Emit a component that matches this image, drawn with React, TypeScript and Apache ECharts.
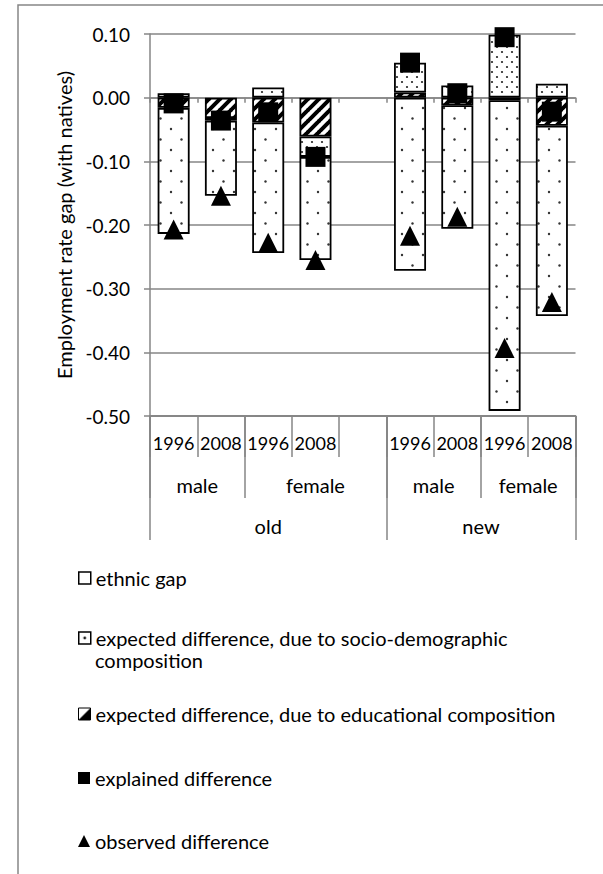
import React, { useEffect, useRef } from "react";
import * as echarts from "echarts";

// ---- data ----
const categories = [
  "old male 1996",
  "old male 2008",
  "old female 1996",
  "old female 2008",
  "",
  "new male 1996",
  "new male 2008",
  "new female 1996",
  "new female 2008",
];
const yearLabels = ["1996", "2008", "1996", "2008", "", "1996", "2008", "1996", "2008"];
// half-category grid (19 points) for the group rows
const genderLabels = ["", "", "male", "", "", "", "", "female", "", "", "", "", "male", "", "", "", "female", "", ""];
const genderDividers = [0, 4, 10, 14, 18];
const originLabels = ["", "", "", "", "", "old", "", "", "", "", "", "", "", "", "new", "", "", "", ""];
const originDividers = [0, 10, 18];

const educational = [-0.016, -0.032, -0.039, -0.061, null, 0.008, -0.012, -0.004, -0.044];
const socioDemographic = [0.007, -0.004, 0.016, -0.032, null, 0.047, 0.019, 0.099, 0.022];
const ethnicGap = [-0.198, -0.118, -0.205, -0.162, null, -0.272, -0.194, -0.488, -0.299];
const explained = [-0.009, -0.036, -0.023, -0.093, null, 0.055, 0.007, 0.095, -0.022];
const observed = [-0.207, -0.154, -0.228, -0.255, null, -0.217, -0.187, -0.393, -0.321];

const yMin = -0.5;
const yMax = 0.1;
const yStep = 0.1;

const S_ETH = "ethnic gap";
const S_SOC = "expected difference, due to socio-demographic composition";
const S_SOC_LINE1 = "expected difference, due to socio-demographic";
const S_SOC_LINE2 = "composition";
const S_EDU = "expected difference, due to educational composition";
const S_EXP = "explained difference";
const S_OBS = "observed difference";
const yTitle = "Employment rate gap (with natives)";

// ---- styling helpers ----
const FONT = "Lato, 'Open Sans', sans-serif";
const GRID_GREY = "#868686";

const svgUri = (body: string, w: number, h: number) =>
  "data:image/svg+xml;charset=utf-8," +
  encodeURIComponent(
    `<svg xmlns='http://www.w3.org/2000/svg' width='${w}' height='${h}'>${body}</svg>`
  );
const pattern = (body: string, w: number, h: number) => ({
  image: svgUri(body, w, h),
  repeat: "repeat",
  imageWidth: w,
  imageHeight: h,
});

const sparseDots = pattern(
  "<rect width='21' height='21' fill='white'/><circle cx='3' cy='3' r='1.2' fill='#333'/><circle cx='13.5' cy='13.5' r='1.2' fill='#333'/>",
  21,
  21
);
const denseDots = pattern(
  "<rect width='10' height='10' fill='white'/><circle cx='2' cy='2' r='1.1' fill='#222'/><circle cx='7' cy='7' r='1.1' fill='#222'/>",
  10,
  10
);
const hatch = pattern(
  "<rect width='11' height='11' fill='white'/><path d='M-1,12 L12,-1 M-1,1 L1,-1 M10,12 L12,10' stroke='black' stroke-width='4'/>",
  11,
  11
);
const iconDot = pattern(
  "<rect width='12' height='12' fill='white'/><circle cx='6' cy='6' r='1.4' fill='#222'/>",
  12,
  12
);
const iconHalf = pattern(
  "<rect width='12' height='12' fill='white'/><polygon points='12,0 12,12 0,12' fill='black'/>",
  12,
  12
);

const dash = (a: (number | null)[]) => a.map((v) => (v == null ? "-" : v));

export default function App() {
  const ref = useRef<HTMLDivElement>(null);

  useEffect(() => {
    if (!ref.current) return;
    const chart = echarts.init(ref.current, undefined, { renderer: "svg" });

    const textBase = { fontFamily: FONT, fontSize: 20, color: "#000" };
    const numBase = { fontFamily: FONT, fontSize: 18, color: "#000" };

    const bottomAxis = (
      data: string[],
      boundaryGap: boolean,
      tickLen: number,
      margin: number,
      show: (i: number) => boolean,
      style: any
    ) => ({
      type: "category",
      data,
      position: "bottom",
      boundaryGap,
      gridIndex: 0,
      axisLine: { show: true, onZero: false, lineStyle: { color: GRID_GREY, width: 1.5 } },
      axisTick: {
        show: true,
        length: tickLen,
        interval: (i: number) => show(i),
        lineStyle: { color: GRID_GREY, width: 1.5 },
      },
      axisLabel: { show: true, interval: 0, margin, ...style },
      splitLine: { show: false },
    });

    const legendRows = [
      { name: S_ETH, top: 568, icon: "rect", itemStyle: { color: "#fff", borderColor: "#000", borderWidth: 1.5, opacity: 1 } },
      { name: S_SOC, top: 628, icon: "rect", itemStyle: { color: iconDot, borderColor: "#000", borderWidth: 1.5, opacity: 1 } },
      { name: S_EDU, top: 704, icon: "rect", itemStyle: { color: iconHalf, borderColor: "#000", borderWidth: 1, opacity: 1 } },
      { name: S_EXP, top: 768, icon: "rect", itemStyle: { color: "#000", borderColor: "#000", borderWidth: 0, opacity: 1 } },
      { name: S_OBS, top: 831, icon: "triangle", itemStyle: { color: "#000", borderColor: "#000", borderWidth: 0, opacity: 1 } },
    ];

    const barBase = {
      type: "bar",
      stack: "gap",
      barWidth: 32,
      xAxisIndex: 0,
      yAxisIndex: 0,
    };

    chart.setOption({
      animation: false,
      backgroundColor: "#fff",
      graphic: [
        {
          type: "rect",
          shape: { x: 18, y: 5, width: 800, height: 1000 },
          style: { fill: "none", stroke: GRID_GREY, lineWidth: 1.5 },
          silent: true,
          z: -10,
        },
        {
          type: "text",
          x: 95,
          y: 660,
          style: {
            text: S_SOC_LINE2,
            font: `20px ${FONT}`,
            fill: "#000",
            verticalAlign: "middle",
            align: "left",
          },
          silent: true,
        },
      ],
      grid: { left: 150, top: 34, width: 425.5, height: 382, containLabel: false },
      xAxis: [
        {
          type: "category",
          data: categories,
          boundaryGap: true,
          position: "bottom",
          axisLine: { show: true, onZero: true, lineStyle: { color: GRID_GREY, width: 1.5 } },
          axisTick: { show: true, length: 5, interval: 0, lineStyle: { color: GRID_GREY, width: 1.5 } },
          axisLabel: { show: false },
          splitLine: { show: false },
        },
        bottomAxis(yearLabels, true, 41, 18, () => true, numBase),
        bottomAxis(genderLabels, false, 82, 59, (i) => genderDividers.includes(i), textBase),
        bottomAxis(originLabels, false, 124, 100, (i) => originDividers.includes(i), textBase),
      ],
      yAxis: {
        type: "value",
        min: yMin,
        max: yMax,
        interval: yStep,
        name: yTitle,
        nameLocation: "middle",
        nameGap: 75,
        nameTextStyle: { ...textBase },
        axisLine: { show: true, lineStyle: { color: GRID_GREY, width: 1.5 } },
        axisTick: { show: true, length: 6, lineStyle: { color: GRID_GREY, width: 1.5 } },
        axisLabel: {
          margin: 20,
          ...numBase,
          fontSize: 19,
          formatter: (v: number) => (Math.abs(v) < 1e-9 ? "0.00" : v.toFixed(2)),
        },
        splitLine: { show: true, lineStyle: { color: GRID_GREY, width: 1.5 } },
      },
      legend: legendRows.map((r) => ({
        data: [{ name: r.name, icon: r.icon, itemStyle: r.itemStyle }],
        left: 78,
        top: r.top,
        padding: 0,
        orient: "vertical",
        itemWidth: 12,
        itemHeight: 12,
        itemGap: 0,
        selectedMode: false,
        formatter: (n: string) => (n === S_SOC ? S_SOC_LINE1 : n),
        textStyle: { ...textBase },
      })),
      series: [
        {
          ...barBase,
          name: S_EDU,
          data: dash(educational),
          itemStyle: { color: hatch, borderColor: "#000", borderWidth: 1.8 },
        },
        {
          ...barBase,
          name: S_SOC,
          data: dash(socioDemographic),
          itemStyle: { color: denseDots, borderColor: "#000", borderWidth: 1.8 },
        },
        {
          ...barBase,
          name: S_ETH,
          data: dash(ethnicGap),
          itemStyle: { color: sparseDots, borderColor: "#000", borderWidth: 1.8 },
        },
        {
          type: "scatter",
          name: S_EXP,
          xAxisIndex: 0,
          yAxisIndex: 0,
          symbol: "rect",
          symbolSize: 20,
          itemStyle: { color: "#000", opacity: 1 },
          data: dash(explained),
          z: 5,
        },
        {
          type: "scatter",
          name: S_OBS,
          xAxisIndex: 0,
          yAxisIndex: 0,
          symbol: "triangle",
          symbolSize: [20, 20],
          itemStyle: { color: "#000", opacity: 1 },
          data: dash(observed),
          z: 6,
        },
      ],
    });

    return () => chart.dispose();
  }, []);

  return (
    <div
      ref={ref}
      style={{ position: "absolute", left: 0, top: 0, width: 603, height: 874 }}
    />
  );
}
